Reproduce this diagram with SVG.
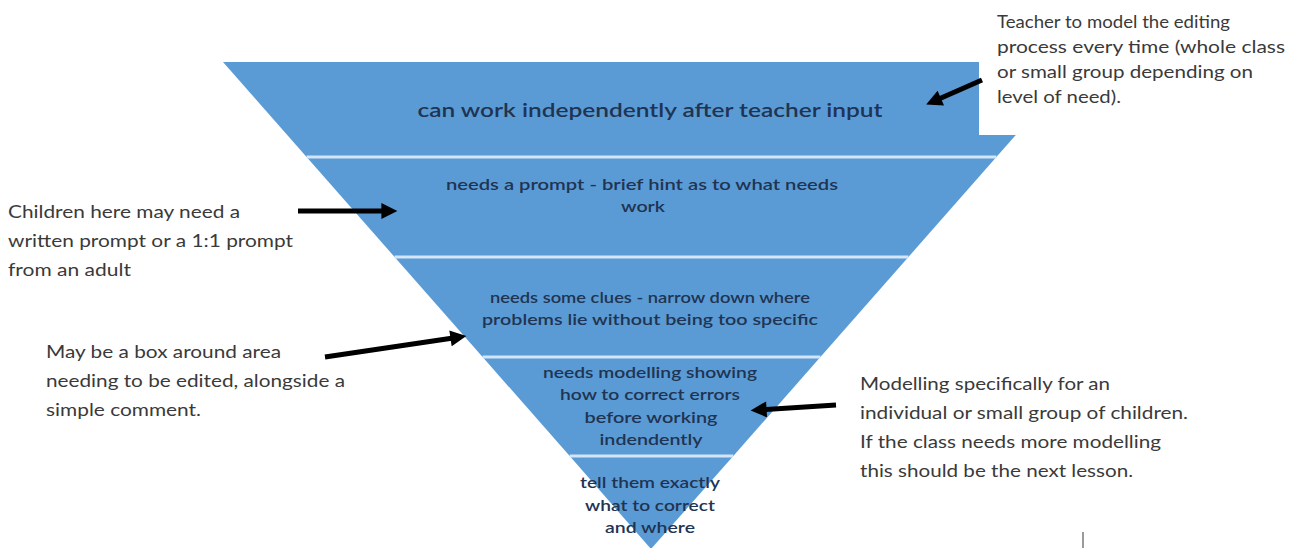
<svg xmlns="http://www.w3.org/2000/svg" width="1290" height="548" viewBox="0 0 1290 548">
  <style>
    .band { fill: #5b9bd5; }
    .sep { stroke: #d3e5f6; stroke-width: 3; }
    .lvl { font-family: Lato, "Open Sans", sans-serif; fill: #1f3452; text-anchor: middle; font-weight: 600; }
    .note { font-family: Lato, "Open Sans", sans-serif; font-size: 17px; fill: #3a3a3a; }
    .arrow { stroke: #000; stroke-width: 5; fill: none; marker-end: url(#head); }
  </style>
  <defs>
    <marker id="head" viewBox="0 0 10 10" refX="6" refY="5" markerWidth="3.6" markerHeight="3.2" orient="auto" markerUnits="strokeWidth">
      <path d="M0,0 L10,5 L0,10 z" fill="#000"/>
    </marker>
  </defs>
  <rect width="1290" height="548" fill="#ffffff"/>

  <!-- pyramid levels, widest at top -->
  <g id="level-1">
    <polygon class="band" points="223,62 1080,62 996.4,157 306.6,157"/>
    <text class="lvl" x="650" y="117" font-size="19" font-weight="700" textLength="465" lengthAdjust="spacingAndGlyphs">can work independently after teacher input</text>
  </g>
  <g id="level-2">
    <polygon class="band" points="306.6,157 996.4,157 908.4,257 394.6,257"/>
    <text class="lvl" x="642" y="190" font-size="16" textLength="392" lengthAdjust="spacingAndGlyphs">needs a prompt - brief hint as to what needs</text>
    <text class="lvl" x="643" y="212" font-size="16" textLength="44" lengthAdjust="spacingAndGlyphs">work</text>
  </g>
  <g id="level-3">
    <polygon class="band" points="394.6,257 908.4,257 820.4,357 482.6,357"/>
    <text class="lvl" x="650" y="303" font-size="14.5" textLength="320" lengthAdjust="spacingAndGlyphs">needs some clues - narrow down where</text>
    <text class="lvl" x="650" y="325" font-size="14.5" textLength="336" lengthAdjust="spacingAndGlyphs">problems lie without being too specific</text>
  </g>
  <g id="level-4">
    <polygon class="band" points="482.6,357 820.4,357 733.3,456 569.7,456"/>
    <text class="lvl" x="650" y="378" font-size="15.5" textLength="214" lengthAdjust="spacingAndGlyphs">needs modelling showing</text>
    <text class="lvl" x="650" y="400" font-size="15.5" textLength="180" lengthAdjust="spacingAndGlyphs">how to correct errors</text>
    <text class="lvl" x="651" y="423" font-size="15.5" textLength="133" lengthAdjust="spacingAndGlyphs">before working</text>
    <text class="lvl" x="651" y="445" font-size="15.5" textLength="103" lengthAdjust="spacingAndGlyphs">indendently</text>
  </g>
  <g id="level-5">
    <polygon class="band" points="569.7,456 733.3,456 651,549"/>
    <text class="lvl" x="650" y="488" font-size="15.5" textLength="140" lengthAdjust="spacingAndGlyphs" fill="#3b4b5e">tell them exactly</text>
    <text class="lvl" x="650" y="511" font-size="15.5" textLength="130" lengthAdjust="spacingAndGlyphs" fill="#3b4b5e">what to correct</text>
    <text class="lvl" x="650" y="533" font-size="15.5" textLength="90" lengthAdjust="spacingAndGlyphs" fill="#3b4b5e">and where</text>
  </g>

  <!-- separators between levels -->
  <g id="separators">
    <line class="sep" x1="306.6" y1="157" x2="996.4" y2="157"/>
    <line class="sep" x1="394.6" y1="257" x2="908.4" y2="257"/>
    <line class="sep" x1="482.6" y1="357" x2="820.4" y2="357"/>
    <line class="sep" x1="569.7" y1="456" x2="733.3" y2="456"/>
  </g>

  <!-- note panel top right sits over the pyramid corner -->
  <g id="note-teacher">
    <rect x="979" y="0" width="311" height="135" fill="#ffffff"/>
    <text class="note" x="997" y="28" textLength="233" lengthAdjust="spacingAndGlyphs">Teacher to model the editing</text>
    <text class="note" x="997" y="53" textLength="288" lengthAdjust="spacingAndGlyphs">process every time (whole class</text>
    <text class="note" x="997" y="78" textLength="256" lengthAdjust="spacingAndGlyphs">or small group depending on</text>
    <text class="note" x="997" y="103" textLength="124" lengthAdjust="spacingAndGlyphs">level of need).</text>
  </g>
  <g id="note-prompt">
    <text class="note" x="8" y="218" textLength="232" lengthAdjust="spacingAndGlyphs">Children here may need a</text>
    <text class="note" x="8" y="247" textLength="285" lengthAdjust="spacingAndGlyphs">written prompt or a 1:1 prompt</text>
    <text class="note" x="8" y="276" textLength="123" lengthAdjust="spacingAndGlyphs">from an adult</text>
  </g>
  <g id="note-box">
    <text class="note" x="46" y="358" textLength="235" lengthAdjust="spacingAndGlyphs">May be a box around area</text>
    <text class="note" x="46" y="387" textLength="299" lengthAdjust="spacingAndGlyphs">needing to be edited, alongside a</text>
    <text class="note" x="46" y="416" textLength="155" lengthAdjust="spacingAndGlyphs">simple comment.</text>
  </g>
  <g id="note-modelling">
    <text class="note" x="860" y="390" textLength="250" lengthAdjust="spacingAndGlyphs">Modelling specifically for an</text>
    <text class="note" x="860" y="419" textLength="328" lengthAdjust="spacingAndGlyphs">individual or small group of children.</text>
    <text class="note" x="860" y="448" textLength="301" lengthAdjust="spacingAndGlyphs">If the class needs more modelling</text>
    <text class="note" x="860" y="477" textLength="273" lengthAdjust="spacingAndGlyphs">this should be the next lesson.</text>
  </g>

  <!-- pointers from notes to levels -->
  <g id="connectors">
    <line class="arrow" x1="982" y1="80" x2="932" y2="102"/>
    <line class="arrow" x1="298" y1="211" x2="391" y2="211"/>
    <line class="arrow" x1="325" y1="357" x2="460" y2="337"/>
    <line class="arrow" x1="836" y1="405" x2="757" y2="410"/>
  </g>

  <rect x="1082" y="532" width="2" height="16" fill="#9a9a9a"/>
</svg>
